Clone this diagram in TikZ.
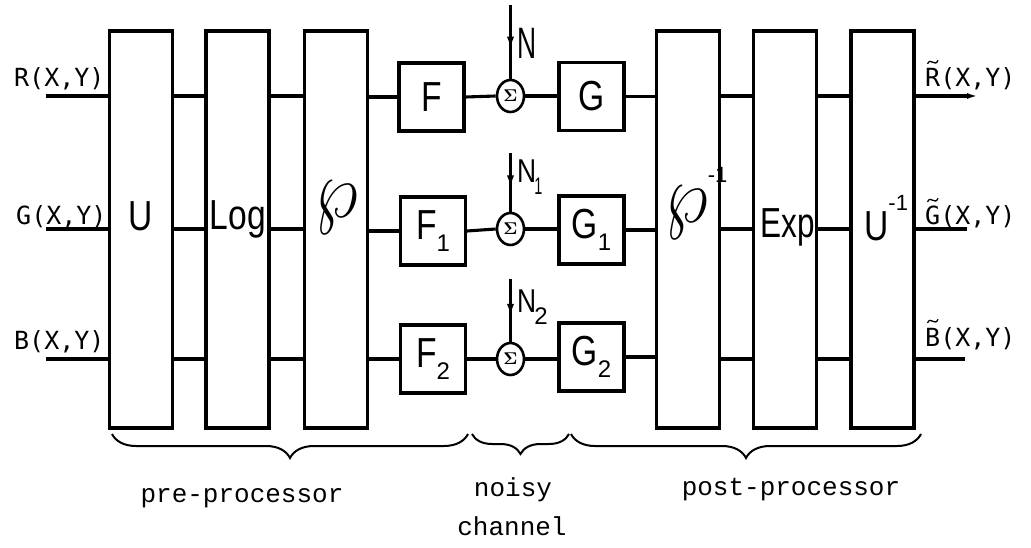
\documentclass[tikz,border=0pt]{standalone}
\usepackage{fontspec}
\setmainfont{Liberation Sans}
\newfontfamily\labfont{DejaVu Sans Mono}
\newfontfamily\courfont{Liberation Mono}
\usetikzlibrary{shapes.geometric,decorations.pathreplacing,decorations.markings,arrows.meta}
\newcommand\mysub[1]{\raisebox{-0.28em}{\fontsize{24}{24}\selectfont #1}}
\newcommand\mysup[1]{\raisebox{0.7em}{\fontsize{22}{22}\selectfont #1}}
\newcommand\nar[1]{\scalebox{0.8}[1]{#1}}
\newcommand\bigwp{\scalebox{3.3}[4.0]{\fontsize{20}{20}\selectfont$\wp$}}
\begin{document}
\begin{tikzpicture}[x=1pt,y=-1pt,
  ln/.style={line width=3.1pt},
  tallbox/.style={draw,line width=3.1pt,minimum width=63pt,minimum height=397pt,inner sep=0pt},
  smallbox/.style={draw,line width=3.1pt,minimum width=65pt,minimum height=68pt,inner sep=0pt,font=\fontsize{42}{42}\selectfont},
  sumnode/.style={draw,ellipse,line width=2.6pt,minimum width=27pt,minimum height=32pt,inner sep=0pt},
  boxlab/.style={inner sep=0pt,font=\fontsize{42}{42}\selectfont},
  nlab/.style={inner sep=0pt,font=\fontsize{44}{44}\selectfont},
  iolab/.style={inner sep=0pt,font=\labfont\fontsize{25}{25}\selectfont},
  brlab/.style={inner sep=0pt,font=\courfont\fontsize{26}{26}\selectfont},
  tld/.style={line width=1.3pt},
  noise/.style={ln,postaction={decorate},decoration={markings,mark=at position 0.62 with {\arrow{Latex[length=14pt,width=7pt]}}}},
  brc/.style={line width=2pt,decorate,decoration={brace,mirror,amplitude=24pt}}
]
\useasboundingbox (0,0) rectangle (1031,548);

% rows
\coordinate (rR) at (0,96);
\coordinate (rG) at (0,229);
\coordinate (rB) at (0,359);

% tall boxes
\node[tallbox] (U)   at (141,229.5) {};
\node[tallbox] (Log) at (237.5,229.5) {};
\node[tallbox] (P)   at (336,229.5) {};
\node[tallbox] (Pi)  at (688,229.5) {};
\node[tallbox] (Exp) at (785,229.5) {};
\node[tallbox] (Ui)  at (882.5,229.5) {};

% tall box labels
\node[boxlab] (lU) at (141,216) {\nar{U}};
\node[boxlab,anchor=base] (lLog) at (238,230) {\nar{Log}};
\node[inner sep=0pt] (lP) at (337,208) {\bigwp};
\node[inner sep=0pt,anchor=west] (lPi) at (665,203) {\bigwp\raisebox{40pt}{\fontsize{22}{22}\selectfont -1}};
\node[boxlab,anchor=base] (lExp) at (788,238) {\scalebox{0.75}[1]{Exp}};
\node[boxlab,anchor=west] (lUi) at (864,218) {\nar{U}\mysup{-1}};

% small boxes
\node[smallbox] (F)  at (431.5,97)  {\nar{F}};
\node[smallbox] (F1) at (433,231)   {\nar{F}\mysub{1}};
\node[smallbox] (F2) at (433,359)   {\nar{F}\mysub{2}};
\node[smallbox] (G)  at (591.5,96.5) {\nar{G}};
\node[smallbox] (G1) at (591.5,230) {\nar{G}\mysub{1}};
\node[smallbox] (G2) at (591.5,357) {\nar{G}\mysub{2}};

% summing junctions
\node[sumnode] (sR) at (510.5,96)  {\scalebox{1.7}{\boldmath$\Sigma$}};
\node[sumnode] (sG) at (510.5,229) {\scalebox{1.7}{\boldmath$\Sigma$}};
\node[sumnode] (sB) at (510.5,359) {\scalebox{1.7}{\boldmath$\Sigma$}};

% noise inputs
\coordinate (nR) at (510.5,5);
\coordinate (nG) at (510.5,153);
\coordinate (nB) at (510.5,279);
\draw[noise] (nR) -- (sR.north);
\draw[noise] (nG) -- (sG.north);
\draw[noise] (nB) -- (sB.north);
\node[nlab,anchor=south west] (NR) at (517,59) {\scalebox{0.6}[1]{N}};
\node[nlab,anchor=south west] (NG) at (517,195) {\scalebox{0.6}[0.75]{N}\mysub{\kern-2pt\scalebox{0.6}[1]{1}}};
\node[nlab,anchor=south west] (NB) at (517,325) {\scalebox{0.6}[0.75]{N}\mysub{\kern-2pt 2}};

% input lines and labels
\coordinate (inR) at (46,96);
\coordinate (inG) at (46,229);
\coordinate (inB) at (46,359);
\draw[ln] (inR) -- (U.west |- inR);
\draw[ln] (inG) -- (U.west |- inG);
\draw[ln] (inB) -- (U.west |- inB);
\node[iolab,anchor=base west] (tR) at (14,87) {R(X,Y)};
\node[iolab,anchor=base west] (tG) at (16,225) {G(X,Y)};
\node[iolab,anchor=base west] (tB) at (14,349) {B(X,Y)};

% connections between stages
\foreach \r in {rR,rG,rB}{
  \draw[ln] (U.east |- \r) -- (Log.west |- \r);
  \draw[ln] (Log.east |- \r) -- (P.west |- \r);
  \draw[ln] (Pi.east |- \r) -- (Exp.west |- \r);
  \draw[ln] (Exp.east |- \r) -- (Ui.west |- \r);
}
\draw[ln] (P.east |- F.west) -- (F.west);
\draw[ln] (P.east |- F1.west) -- (F1.west);
\draw[ln] (P.east |- F2.west) -- (F2.west);
\draw[ln] (F.east) -- (sR.west);
\draw[ln] (F1.east) -- (sG.west);
\draw[ln] (F2.east) -- (sB.west);
\draw[ln] (sR.east) -- (G.west |- sR.east);
\draw[ln] (sG.east) -- (G1.west |- sG.east);
\draw[ln] (sB.east) -- (G2.west |- sB.east);
\draw[ln] (G.east) -- (Pi.west |- G.east);
\draw[ln] (G1.east) -- (Pi.west |- G1.east);
\draw[ln] (G2.east) -- (Pi.west |- G2.east);

% outputs
\coordinate (oR) at (978,96);
\coordinate (oG) at (967,229);
\coordinate (oB) at (965,359);
\draw[ln,-{Latex[length=11pt,width=6pt]}] (Ui.east |- oR) -- (oR);
\draw[ln] (Ui.east |- oG) -- (oG);
\draw[ln] (Ui.east |- oB) -- (oB);
\node[iolab,anchor=base west] (tRo) at (925,87) {R(X,Y)};
\node[iolab,anchor=base west] (tGo) at (925,225) {G(X,Y)};
\node[iolab,anchor=base west] (tBo) at (925,346) {B(X,Y)};
% tildes over the output letters
\foreach \t in {tRo,tGo,tBo}{
  \draw[tld] ([shift={(2.5,-4)}]\t.north west) .. controls +(1.5,-3.5) and +(-2,-1) .. +(5.5,-1.5)
    .. controls +(2,1) and +(-1.5,3.5) .. +(10.5,-3.5);
}

% braces
\coordinate (b1a) at (112,434);
\coordinate (b1b) at (468,434);
\coordinate (b2a) at (472,434);
\coordinate (b2b) at (569,434);
\coordinate (b3a) at (571,434);
\coordinate (b3b) at (921,434);
\draw[brc] (b1a) -- (b1b);
\draw[brc,decoration={amplitude=20pt}] (b2a) -- (b2b);
\draw[brc] (b3a) -- (b3b);

\node[brlab] (pre) at (242,498) {pre-processor};
\node[brlab] (noisy) at (513,490) {noisy};
\node[brlab] (chan) at (512,526) {channel};
\node[brlab] (post) at (791,490) {post-processor};
\end{tikzpicture}
\end{document}
